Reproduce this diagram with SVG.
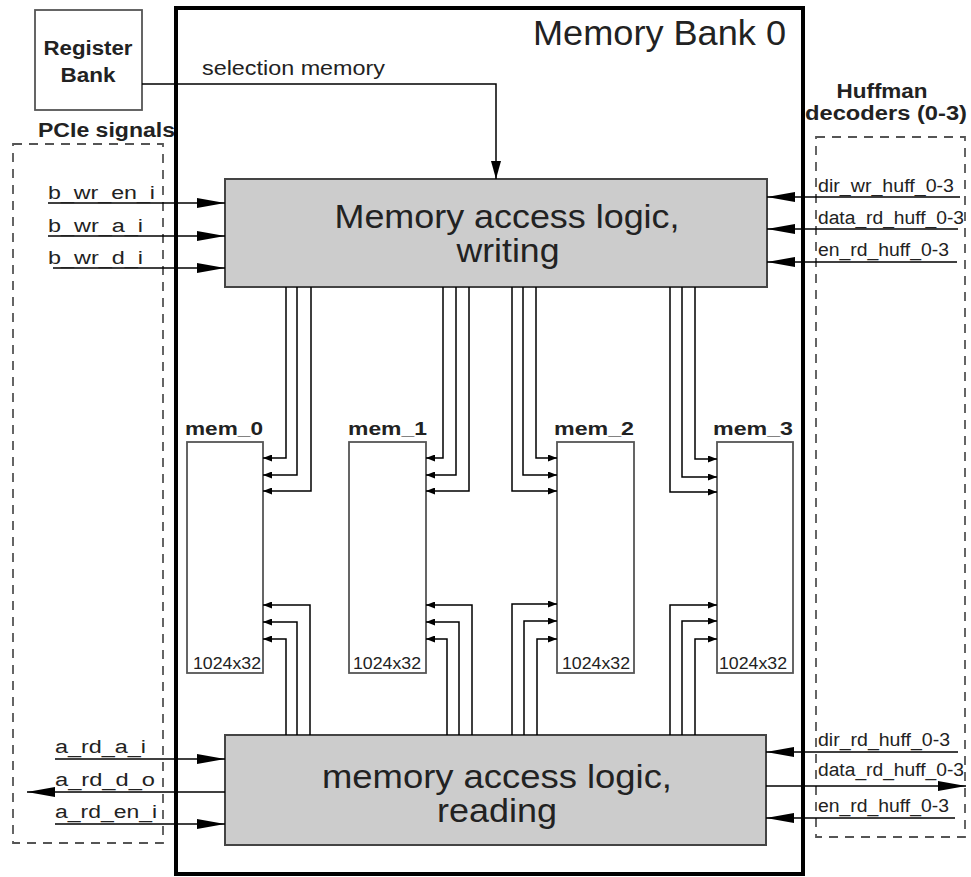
<svg xmlns="http://www.w3.org/2000/svg" width="971" height="877" viewBox="0 0 971 877">
<defs>
<marker id="big" markerUnits="userSpaceOnUse" markerWidth="28" markerHeight="10" refX="28" refY="5" orient="auto" viewBox="0 0 28 10">
<path d="M0,0 L28,5 L0,10 Z" fill="#000"/>
</marker>
<marker id="sel" markerUnits="userSpaceOnUse" markerWidth="18" markerHeight="10" refX="18" refY="5" orient="auto" viewBox="0 0 18 10">
<path d="M0,0 L18,5 L0,10 Z" fill="#000"/>
</marker>
<marker id="sm" markerUnits="userSpaceOnUse" markerWidth="9" markerHeight="7" refX="9" refY="3.5" orient="auto" viewBox="0 0 9 7">
<path d="M0,0 L9,3.5 L0,7 Z" fill="#000"/>
</marker>
</defs>
<style>
text{font-family:"Liberation Sans",Arial,sans-serif;fill:#222}
.b{font-weight:bold}
.sig{font-size:18px}
.blk{fill:#cccccc;stroke:#444;stroke-width:2}
.mem{fill:#fff;stroke:#555;stroke-width:1.8}
.dash{fill:none;stroke:#555;stroke-width:1.8;stroke-dasharray:9 7}
.bus{fill:none;stroke:#000;stroke-width:1.5;marker-end:url(#sm)}
.in{fill:none;stroke:#000;stroke-width:1.5;marker-end:url(#big)}
</style>
<rect width="971" height="877" fill="#fff"/>

<g id="pcie">
<rect class="dash" x="13" y="144" width="150" height="699"/>
<text class="b" x="38" y="137" font-size="20" textLength="137" lengthAdjust="spacingAndGlyphs">PCIe signals</text>
</g>
<g id="huffman">
<rect class="dash" x="816" y="137" width="149" height="700"/>
<text class="b" x="882" y="98" font-size="20" text-anchor="middle" textLength="91" lengthAdjust="spacingAndGlyphs">Huffman</text>
<text class="b" x="886" y="120" font-size="20" text-anchor="middle" textLength="162" lengthAdjust="spacingAndGlyphs">decoders (0-3)</text>
</g>

<g id="bank">
<rect x="176" y="8" width="627" height="866" fill="none" stroke="#000" stroke-width="4"/>
<text x="533" y="45" font-size="35" textLength="253" lengthAdjust="spacingAndGlyphs">Memory Bank 0</text>
</g>

<g id="register-bank">
<rect x="35" y="10" width="107" height="100" fill="#fff" stroke="#555" stroke-width="1.8"/>
<text class="b" x="88" y="55" font-size="20" text-anchor="middle" textLength="89" lengthAdjust="spacingAndGlyphs">Register</text>
<text class="b" x="88" y="82" font-size="20" text-anchor="middle" textLength="55" lengthAdjust="spacingAndGlyphs">Bank</text>
</g>

<g id="write-logic">
<rect class="blk" x="225" y="179" width="542" height="108"/>
<text x="507" y="228" font-size="33" text-anchor="middle" textLength="345" lengthAdjust="spacingAndGlyphs">Memory access logic,</text>
<text x="508" y="262" font-size="33" text-anchor="middle" textLength="103" lengthAdjust="spacingAndGlyphs">writing</text>
</g>

<g id="read-logic">
<rect class="blk" x="225" y="735" width="541" height="110"/>
<text x="497" y="788" font-size="33" text-anchor="middle" textLength="350" lengthAdjust="spacingAndGlyphs">memory access logic,</text>
<text x="497" y="822" font-size="33" text-anchor="middle" textLength="120" lengthAdjust="spacingAndGlyphs">reading</text>
</g>

<g id="mem_0">
<rect class="mem" x="187" y="442" width="76" height="231"/>
<text class="b" x="185" y="435" font-size="19" textLength="78" lengthAdjust="spacingAndGlyphs">mem_0</text>
<text x="193" y="669" font-size="17" textLength="68" lengthAdjust="spacingAndGlyphs">1024x32</text>
</g>
<g id="mem_1">
<rect class="mem" x="349" y="442" width="77" height="231"/>
<text class="b" x="348" y="435" font-size="19" textLength="79" lengthAdjust="spacingAndGlyphs">mem_1</text>
<text x="353" y="669" font-size="17" textLength="68" lengthAdjust="spacingAndGlyphs">1024x32</text>
</g>
<g id="mem_2">
<rect class="mem" x="557" y="442" width="77" height="231"/>
<text class="b" x="554" y="435" font-size="19" textLength="80" lengthAdjust="spacingAndGlyphs">mem_2</text>
<text x="562" y="669" font-size="17" textLength="68" lengthAdjust="spacingAndGlyphs">1024x32</text>
</g>
<g id="mem_3">
<rect class="mem" x="717" y="442" width="76" height="231"/>
<text class="b" x="713" y="435" font-size="19" textLength="80" lengthAdjust="spacingAndGlyphs">mem_3</text>
<text x="719" y="669" font-size="17" textLength="68" lengthAdjust="spacingAndGlyphs">1024x32</text>
</g>

<g id="connectors">
<polyline fill="none" stroke="#000" stroke-width="1.5" points="142,84 496,84 496,179" marker-end="url(#sel)"/>
<text x="202" y="75" font-size="21" textLength="183" lengthAdjust="spacingAndGlyphs">selection memory</text>

<line class="in" x1="48" y1="203" x2="225" y2="203"/>
<line class="in" x1="48" y1="236" x2="225" y2="236"/>
<line class="in" x1="53" y1="268" x2="225" y2="268"/>
<text class="sig" x="48" y="199" textLength="107" lengthAdjust="spacingAndGlyphs">b_wr_en_i</text>
<text class="sig" x="48" y="232" textLength="95" lengthAdjust="spacingAndGlyphs">b_wr_a_i</text>
<text class="sig" x="48" y="264" textLength="95" lengthAdjust="spacingAndGlyphs">b_wr_d_i</text>

<line class="in" x1="55" y1="759" x2="225" y2="759"/>
<line class="in" x1="225" y1="792" x2="27" y2="792"/>
<line class="in" x1="55" y1="824" x2="225" y2="824"/>
<text class="sig" x="55" y="753" textLength="91" lengthAdjust="spacingAndGlyphs">a_rd_a_i</text>
<text class="sig" x="55" y="786" textLength="100" lengthAdjust="spacingAndGlyphs">a_rd_d_o</text>
<text class="sig" x="55" y="818" textLength="102" lengthAdjust="spacingAndGlyphs">a_rd_en_i</text>

<line class="in" x1="960" y1="197" x2="767" y2="197"/>
<line class="in" x1="958" y1="229" x2="767" y2="229"/>
<line class="in" x1="957" y1="262" x2="767" y2="262"/>
<text class="sig" x="818" y="192" textLength="136" lengthAdjust="spacingAndGlyphs">dir_wr_huff_0-3</text>
<text class="sig" x="818" y="224" textLength="146" lengthAdjust="spacingAndGlyphs">data_rd_huff_0-3</text>
<text class="sig" x="818" y="256" textLength="131" lengthAdjust="spacingAndGlyphs">en_rd_huff_0-3</text>

<line class="in" x1="958" y1="752" x2="766" y2="752"/>
<line class="in" x1="766" y1="786" x2="966" y2="786"/>
<line class="in" x1="955" y1="818" x2="766" y2="818"/>
<text class="sig" x="818" y="746" textLength="132" lengthAdjust="spacingAndGlyphs">dir_rd_huff_0-3</text>
<text class="sig" x="818" y="776" textLength="146" lengthAdjust="spacingAndGlyphs">data_rd_huff_0-3</text>
<text class="sig" x="818" y="812" textLength="131" lengthAdjust="spacingAndGlyphs">en_rd_huff_0-3</text>

<polyline class="bus" points="286,287 286,458 263,458"/>
<polyline class="bus" points="297,287 297,475 263,475"/>
<polyline class="bus" points="311,287 311,491 263,491"/>
<polyline class="bus" points="443,287 443,458 426,458"/>
<polyline class="bus" points="456,287 456,475 426,475"/>
<polyline class="bus" points="469,287 469,491 426,491"/>
<polyline class="bus" points="536,287 536,458 557,458"/>
<polyline class="bus" points="523,287 523,475 557,475"/>
<polyline class="bus" points="512,287 512,491 557,491"/>
<polyline class="bus" points="695,287 695,459 717,459"/>
<polyline class="bus" points="682,287 682,477 717,477"/>
<polyline class="bus" points="670,287 670,492 717,492"/>

<polyline class="bus" points="310,735 310,605 263,605"/>
<polyline class="bus" points="297,735 297,622 263,622"/>
<polyline class="bus" points="286,735 286,639 263,639"/>
<polyline class="bus" points="472,735 472,605 426,605"/>
<polyline class="bus" points="459,735 459,622 426,622"/>
<polyline class="bus" points="447,735 447,639 426,639"/>
<polyline class="bus" points="512,735 512,604 557,604"/>
<polyline class="bus" points="524,735 524,621 557,621"/>
<polyline class="bus" points="537,735 537,639 557,639"/>
<polyline class="bus" points="670,735 670,605 717,605"/>
<polyline class="bus" points="682,735 682,621 717,621"/>
<polyline class="bus" points="695,735 695,639 717,639"/>
</g>
</svg>
